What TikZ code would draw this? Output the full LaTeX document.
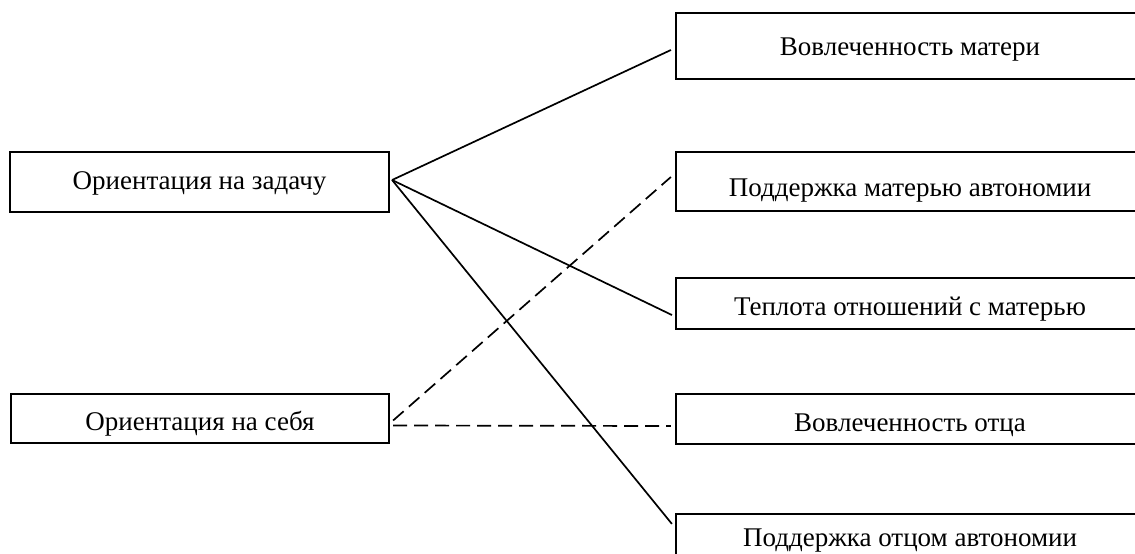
\documentclass[tikz,border=0pt]{standalone}
\usepackage{fontspec}
\setmainfont{Liberation Serif}
\usetikzlibrary{calc}
\tikzset{
  box/.style={draw=black, line width=2.2pt, rectangle, inner sep=0pt},
  lbl/.style={inner sep=0pt, anchor=base, font=\fontsize{27}{31}\selectfont},
  conn/.style={line width=1.7pt},
  dconn/.style={line width=1.7pt, dash pattern=on 14pt off 7pt},
}
\begin{document}
\begin{tikzpicture}[x=1pt,y=-1pt]
\useasboundingbox (0,0) rectangle (1135,554);
\clip (0,0) rectangle (1135,554);
% left boxes
\node[box, minimum width=379pt, minimum height=60pt] (t1) at (199.5,182) {};
\node[box, minimum width=378pt, minimum height=49pt] (t2) at (200,418.5) {};
% right boxes
\node[box, minimum width=468pt, minimum height=66pt] (m1) at (910,46) {};
\node[box, minimum width=468pt, minimum height=59pt] (m2) at (910,181.5) {};
\node[box, minimum width=468pt, minimum height=51pt] (m3) at (910,303.5) {};
\node[box, minimum width=468pt, minimum height=50pt] (m4) at (910,419) {};
\node[box, minimum width=468pt, minimum height=60pt] (m5) at (910,544) {};
% labels
\node[lbl] (t1l) at (199.5,189) {Ориентация на задачу};
\node[lbl] (t2l) at (200,430) {Ориентация на себя};
\node[lbl] (m1l) at (910,55) {Вовлеченность матери};
\node[lbl] (m2l) at (910,196) {Поддержка матерью автономии};
\node[lbl] (m3l) at (910,315) {Теплота отношений с матерью};
\node[lbl] (m4l) at (910,431) {Вовлеченность отца};
\node[lbl] (m5l) at (910,546) {Поддержка отцом автономии};
% connector ends
\coordinate (s1) at ($(t1.east)+(2,-2)$);
\coordinate (s2a) at ($(t2.east)+(3,2)$);
\coordinate (s2b) at ($(t2.east)+(3,7)$);
\coordinate (e1) at ($(m1.west)+(-4,4)$);
\coordinate (e2) at ($(m2.west)+(-4,-4.5)$);
\coordinate (e3) at ($(m3.west)+(-3,11.5)$);
\coordinate (e4) at ($(m4.west)+(-4,7)$);
\coordinate (e5) at ($(m5.north west)+(-3,11)$);
\draw[conn] (s1) -- (e1);
\draw[conn] (s1) -- (e3);
\draw[conn] (s1) -- (e5);
\draw[dconn] (s2a) -- (e2);
\draw[dconn] (s2b) -- (e4);
\end{tikzpicture}
\end{document}
